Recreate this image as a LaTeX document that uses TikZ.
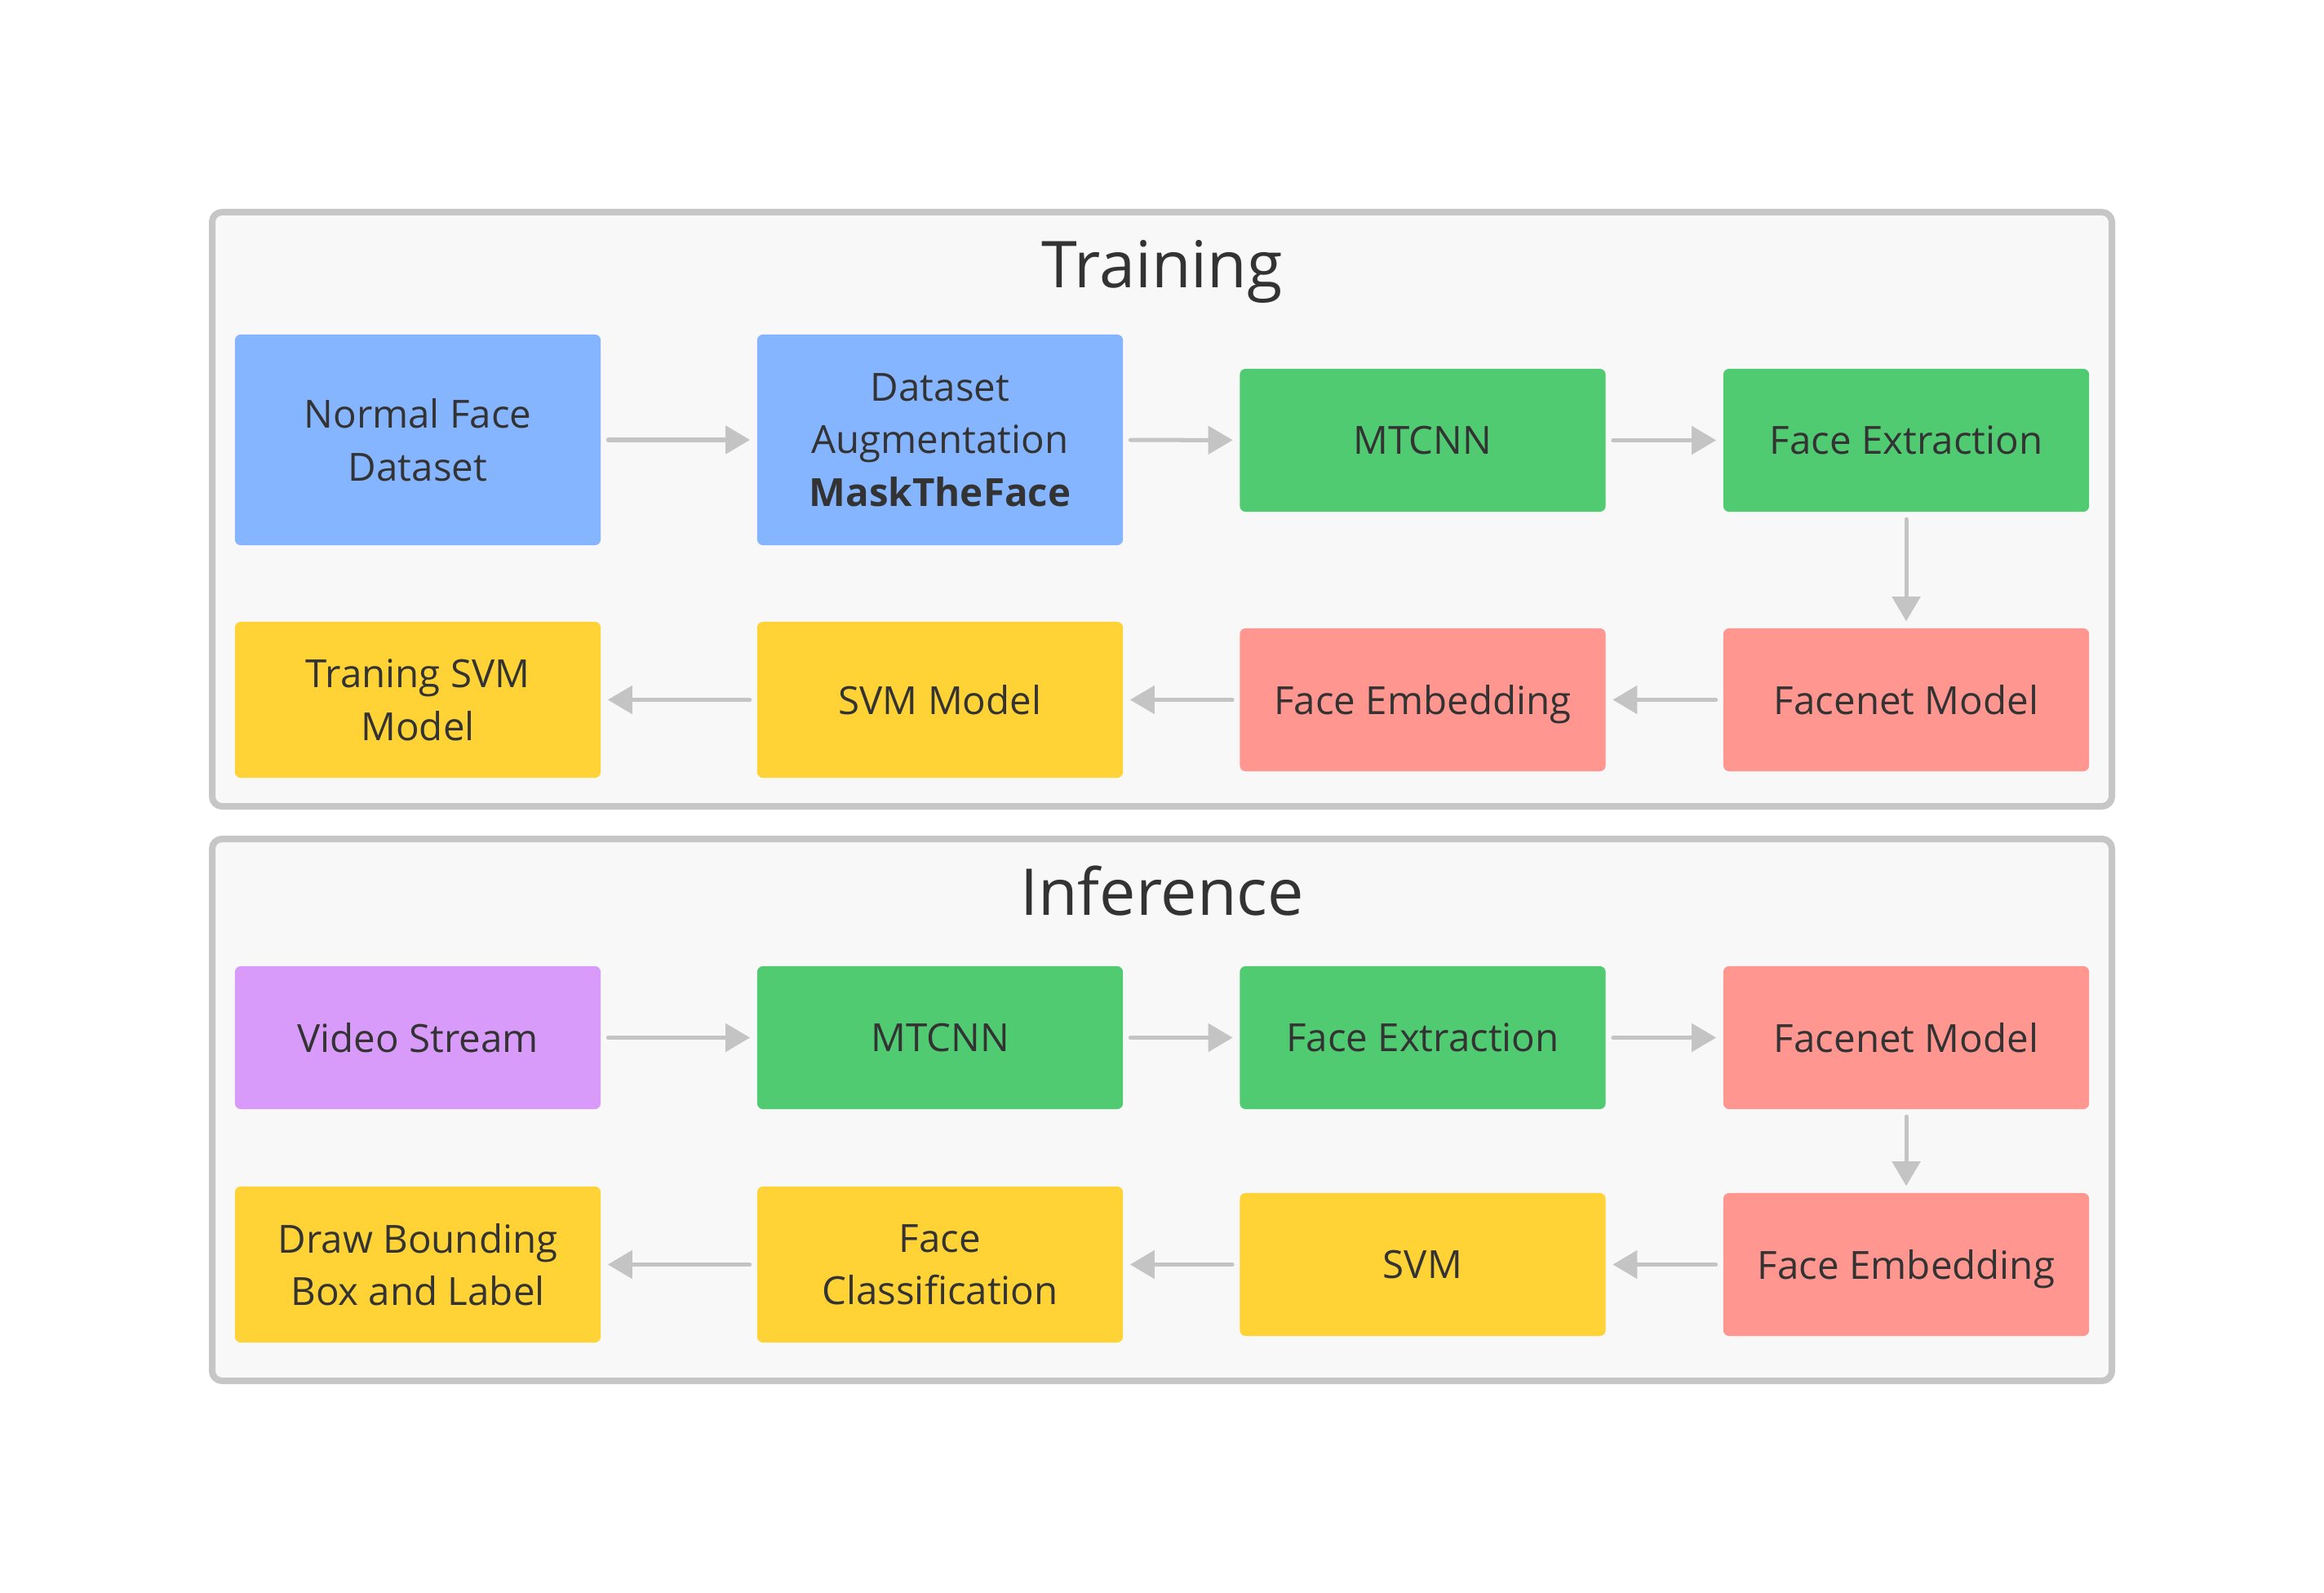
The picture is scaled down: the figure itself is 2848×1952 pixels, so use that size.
\documentclass[tikz,border=0pt]{standalone}
\usepackage{fontspec}
\setmainfont{Open Sans}
\usetikzlibrary{arrows.meta}
\definecolor{boxblue}{HTML}{86B5FF}
\definecolor{boxgreen}{HTML}{50CB72}
\definecolor{boxred}{HTML}{FF968F}
\definecolor{boxyellow}{HTML}{FFD336}
\definecolor{boxpurple}{HTML}{D89BFA}
\definecolor{txtgray}{HTML}{333333}
\definecolor{arrowgray}{HTML}{C4C4C4}
\definecolor{framegray}{HTML}{C6C6C6}
\definecolor{framefill}{HTML}{F8F8F8}
\tikzstyle{block}=[rectangle,rounded corners=2pt,minimum width=4.48cm,inner sep=0pt,text depth=0pt,align=center,text=txtgray,font=\fontsize{13.5}{18.4}\selectfont]
\tikzstyle{frame}=[draw=framegray,fill=framefill,line width=0.08cm,rounded corners=0.12cm]
\tikzstyle{title}=[anchor=base,text=txtgray,font=\fontsize{22.5}{27}\selectfont]
\tikzstyle{edge} = [draw,line width=0.05cm,arrowgray,line cap=round,-{Triangle[length=0.30cm,width=0.34cm]},shorten <=0.085cm,shorten >=0.08cm]

\begin{document}
\begin{tikzpicture}[x=0.01cm, y=-0.01cm]

    \path[fill=white] (0,0) rectangle (2848,1952);

    % two panels
    \draw[frame] (260,260) rectangle (2588,988);
    \draw[frame] (260,1028) rectangle (2588,1692);
    \node[title] (trn) at (1424,353) {Training};
    \node[title] (inf) at (1424,1121) {Inference};

    % training
     \foreach \x/\y/\h/\name/\col/\txt in {512/539/2.58/nfd/boxblue/{Normal Face\\Dataset}, 1152/539/2.58/dsa/boxblue/{Dataset\\Augmentation\\\textbf{MaskTheFace}}, 1743.5/539.5/1.75/mtc/boxgreen/{MTCNN}, 2336/539.5/1.75/fext/boxgreen/{Face Extraction}, 2336/857.5/1.75/fnet/boxred/{Facenet Model}, 1743.5/857.5/1.75/femb/boxred/{Face Embedding}, 1152/857.5/1.91/svmm/boxyellow/{SVM Model}, 512/857.5/1.91/tsvm/boxyellow/{Traning SVM\\Model}}
        \node[block, fill=\col, minimum height=\h cm] (\name) at (\x,\y) {\txt};

    \foreach \source/ \dest in {nfd/dsa, dsa/mtc, mtc/fext, fext/fnet, fnet/femb, femb/svmm, svmm/tsvm}
        \path[edge] (\source) -- (\dest);

    % inference
     \foreach \x/\y/\h/\name/\col/\txt in {512/1271.5/1.75/vid/boxpurple/{Video Stream}, 1152/1271.5/1.75/imtc/boxgreen/{MTCNN}, 1743.5/1271.5/1.75/iext/boxgreen/{Face Extraction}, 2336/1271.5/1.75/inet/boxred/{Facenet Model}, 2336/1549.5/1.75/iemb/boxred/{Face Embedding}, 1743.5/1549.5/1.75/isvm/boxyellow/{SVM}, 1152/1549.5/1.91/fcls/boxyellow/{Face\\Classification}, 512/1549.5/1.91/dbox/boxyellow/{Draw Bounding\\Box and Label}}
        \node[block, fill=\col, minimum height=\h cm] (\name) at (\x,\y) {\txt};

    \foreach \source/ \dest in {vid/imtc, imtc/iext, iext/inet, inet/iemb, iemb/isvm, isvm/fcls, fcls/dbox}
        \path[edge] (\source) -- (\dest);

\end{tikzpicture}
\end{document}
